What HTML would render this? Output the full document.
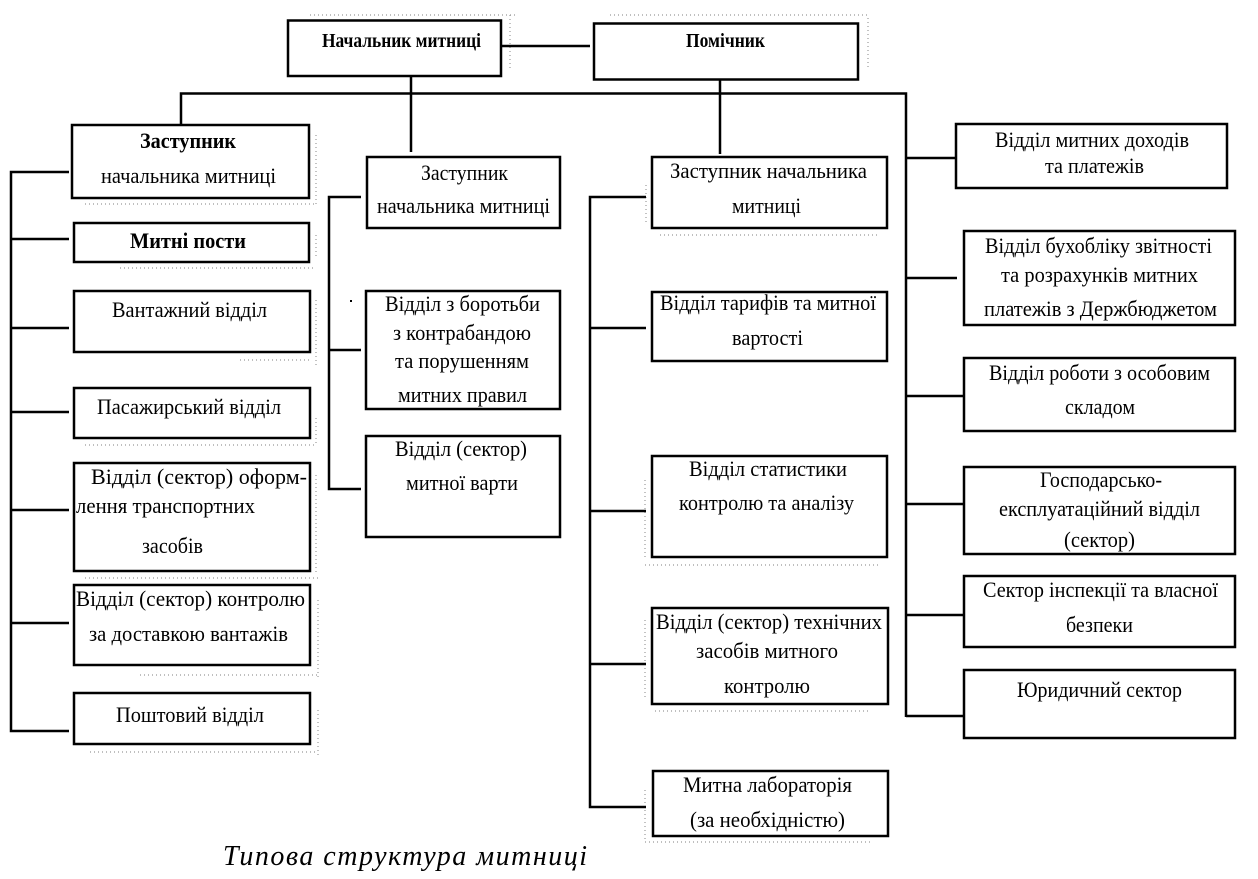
<!DOCTYPE html>
<html><head><meta charset="utf-8"><style>
html,body{margin:0;padding:0;background:#fff}
svg{display:block}
text{font-family:"Liberation Serif",serif;fill:#000;font-size:22px}
text.b{font-weight:bold}
text.s{font-size:20px}
text.c{font-size:28px;font-style:italic}
rect{fill:#fff;stroke:#000;stroke-width:2.5}
path.l{stroke:#000;stroke-width:2.5;fill:none}
path.h{stroke:#999;stroke-width:1.2;stroke-dasharray:1 3;fill:none}
</style></head><body>
<svg width="1258" height="879" viewBox="0 0 1258 879" xmlns="http://www.w3.org/2000/svg">
<path class="h" d="M310 15H515M510 15V70M610 15H868M868 18V70M316 135V205M85 204H316M316 235V256M120 268H316M316 300V365M240 360H310M85 445H316M316 418V445M316 475V575M85 578H318M318 600V680M140 675H318M318 710V755M90 752H318M660 235H880M646 185V225M645 480V560M645 565H880M645 620V700M655 711H870M645 790V840M645 842H870"/>
<path class="l" d="M501 46H590M181 124V93.500H906V717M411 77V152M720 80V154M906 158H956M906 278H957M906 396H964M906 504H964M906 615H964M906 716H964"/>
<path class="l" d="M69 172H11V731H69M11 239H69M11 328H69M11 412H69M11 510H69M11 623H69"/>
<path class="l" d="M361 197H329V489H361M329 350H361"/>
<path class="l" d="M646 197H590V807H646M590 328H646M590 511H646M590 664H646"/>
<path d="M350 300h2v2h-2z" fill="#000"/>
<rect x="288" y="20.500" width="213" height="55.500"/><rect x="594" y="23.500" width="264" height="56"/>
<rect x="72" y="125" width="237" height="73"/><rect x="74" y="223" width="235" height="39"/><rect x="74" y="291" width="236" height="61"/><rect x="74" y="388" width="236" height="50"/><rect x="74" y="463" width="236" height="108"/><rect x="74" y="585" width="236" height="80"/><rect x="74" y="693" width="236" height="51"/>
<rect x="367" y="157" width="193" height="71"/><rect x="366" y="291" width="194" height="118"/><rect x="366" y="436" width="194" height="101"/>
<rect x="652" y="157" width="235" height="71"/><rect x="652" y="292" width="235" height="69"/><rect x="652" y="456" width="235" height="101"/><rect x="652" y="608" width="236" height="96"/><rect x="653" y="771" width="235" height="65"/>
<rect x="956" y="124" width="271" height="64"/><rect x="964" y="231" width="271" height="94"/><rect x="964" y="358" width="271" height="73"/><rect x="964" y="467" width="271" height="87"/><rect x="964" y="576" width="271" height="71"/><rect x="964" y="670" width="271" height="68"/>
<text class="b s" x="322" y="47" textLength="159" lengthAdjust="spacingAndGlyphs">Начальник митниці</text>
<text class="b s" x="686" y="47" textLength="79" lengthAdjust="spacingAndGlyphs">Помічник</text>
<text class="b" x="140" y="148" textLength="96" lengthAdjust="spacingAndGlyphs">Заступник</text>
<text class="b" x="130" y="248" textLength="116" lengthAdjust="spacingAndGlyphs">Митні пости</text>
<text x="101" y="183" textLength="175" lengthAdjust="spacingAndGlyphs">начальника митниці</text>
<text x="112" y="317" textLength="155" lengthAdjust="spacingAndGlyphs">Вантажний відділ</text>
<text x="97" y="414" textLength="184" lengthAdjust="spacingAndGlyphs">Пасажирський відділ</text>
<text x="91" y="484" textLength="216" lengthAdjust="spacingAndGlyphs">Відділ (сектор) оформ-</text>
<text x="76" y="513" textLength="179" lengthAdjust="spacingAndGlyphs">лення транспортних</text>
<text x="142" y="553" textLength="61" lengthAdjust="spacingAndGlyphs">засобів</text>
<text x="76" y="606" textLength="229" lengthAdjust="spacingAndGlyphs">Відділ (сектор) контролю</text>
<text x="89" y="641" textLength="199" lengthAdjust="spacingAndGlyphs">за доставкою вантажів</text>
<text x="116" y="722" textLength="148" lengthAdjust="spacingAndGlyphs">Поштовий відділ</text>
<text x="421" y="180" textLength="87" lengthAdjust="spacingAndGlyphs">Заступник</text>
<text x="377" y="213" textLength="173" lengthAdjust="spacingAndGlyphs">начальника митниці</text>
<text x="385" y="311" textLength="155" lengthAdjust="spacingAndGlyphs">Відділ з боротьби</text>
<text x="393" y="340" textLength="138" lengthAdjust="spacingAndGlyphs">з контрабандою</text>
<text x="395" y="368" textLength="134" lengthAdjust="spacingAndGlyphs">та порушенням</text>
<text x="398" y="402" textLength="129" lengthAdjust="spacingAndGlyphs">митних правил</text>
<text x="395" y="456" textLength="132" lengthAdjust="spacingAndGlyphs">Відділ (сектор)</text>
<text x="406" y="490" textLength="112" lengthAdjust="spacingAndGlyphs">митної варти</text>
<text x="670" y="178" textLength="197" lengthAdjust="spacingAndGlyphs">Заступник начальника</text>
<text x="732" y="213" textLength="69" lengthAdjust="spacingAndGlyphs">митниці</text>
<text x="660" y="310" textLength="216" lengthAdjust="spacingAndGlyphs">Відділ тарифів та митної</text>
<text x="732" y="345" textLength="71" lengthAdjust="spacingAndGlyphs">вартості</text>
<text x="689" y="476" textLength="158" lengthAdjust="spacingAndGlyphs">Відділ статистики</text>
<text x="679" y="510" textLength="175" lengthAdjust="spacingAndGlyphs">контролю та аналізу</text>
<text x="656" y="629" textLength="226" lengthAdjust="spacingAndGlyphs">Відділ (сектор) технічних</text>
<text x="696" y="658" textLength="142" lengthAdjust="spacingAndGlyphs">засобів митного</text>
<text x="724" y="693" textLength="86" lengthAdjust="spacingAndGlyphs">контролю</text>
<text x="683" y="792" textLength="169" lengthAdjust="spacingAndGlyphs">Митна лабораторія</text>
<text x="690" y="827" textLength="155" lengthAdjust="spacingAndGlyphs">(за необхідністю)</text>
<text x="995" y="147" textLength="194" lengthAdjust="spacingAndGlyphs">Відділ митних доходів</text>
<text x="1045" y="173" textLength="99" lengthAdjust="spacingAndGlyphs">та платежів</text>
<text x="985" y="253" textLength="227" lengthAdjust="spacingAndGlyphs">Відділ бухобліку звітності</text>
<text x="1001" y="282" textLength="197" lengthAdjust="spacingAndGlyphs">та розрахунків митних</text>
<text x="984" y="316" textLength="233" lengthAdjust="spacingAndGlyphs">платежів з Держбюджетом</text>
<text x="989" y="380" textLength="221" lengthAdjust="spacingAndGlyphs">Відділ роботи з особовим</text>
<text x="1065" y="414" textLength="70" lengthAdjust="spacingAndGlyphs">складом</text>
<text x="1040" y="487" textLength="122" lengthAdjust="spacingAndGlyphs">Господарсько-</text>
<text x="999" y="516" textLength="201" lengthAdjust="spacingAndGlyphs">експлуатаційний відділ</text>
<text x="1064" y="547" textLength="71" lengthAdjust="spacingAndGlyphs">(сектор)</text>
<text x="983" y="597" textLength="235" lengthAdjust="spacingAndGlyphs">Сектор інспекції та власної</text>
<text x="1066" y="632" textLength="67" lengthAdjust="spacingAndGlyphs">безпеки</text>
<text x="1017" y="697" textLength="165" lengthAdjust="spacingAndGlyphs">Юридичний сектор</text>
<text class="c" x="223" y="865" textLength="364" lengthAdjust="spacing">Типова структура митниці</text>
</svg></body></html>
